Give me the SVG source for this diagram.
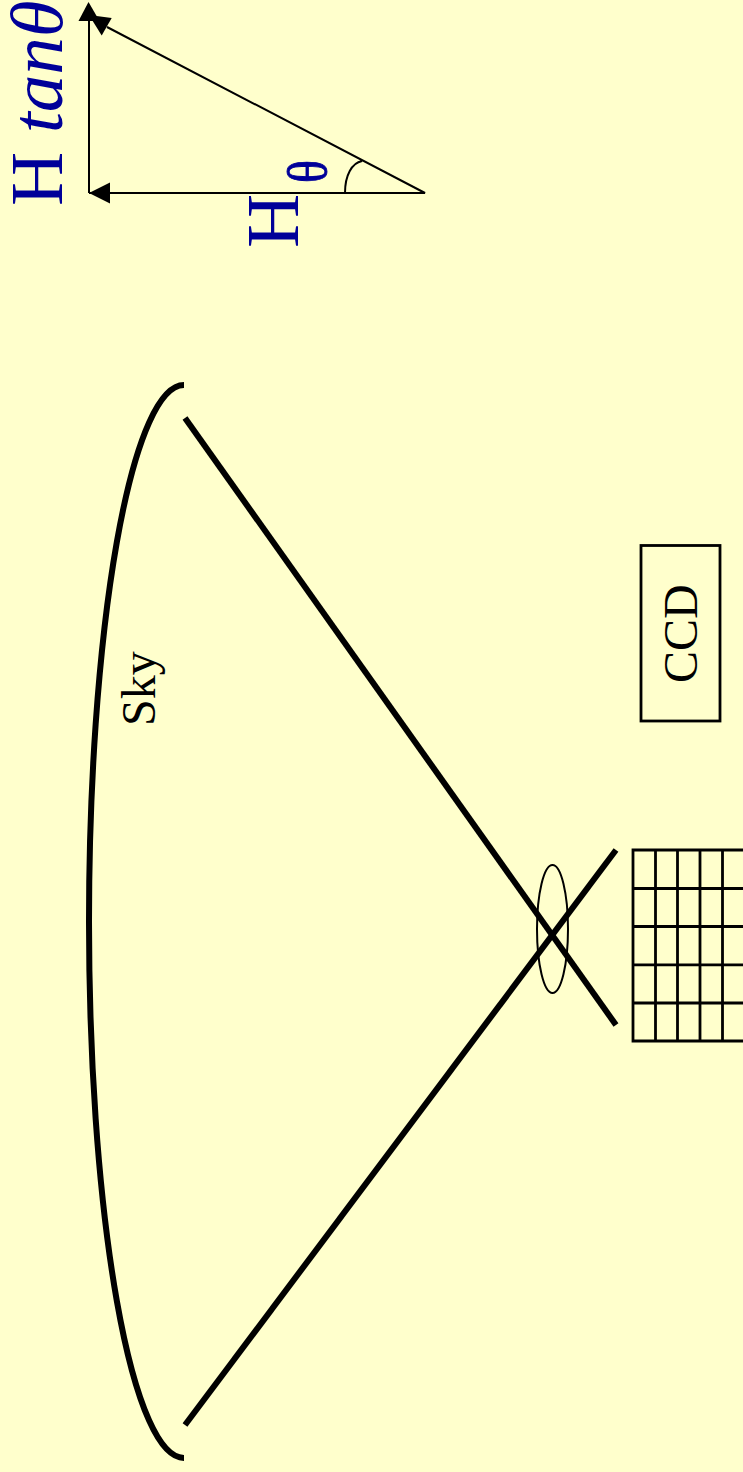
<svg xmlns="http://www.w3.org/2000/svg" width="743" height="1472" viewBox="0 0 743 1472">
<style>
.thick{fill:none;stroke:#000;stroke-width:6}
.thin{fill:none;stroke:#000;stroke-width:2}
.grid{fill:none;stroke:#000;stroke-width:2.800}
.head{fill:#000;stroke:none}
text{font-family:"Liberation Serif","Times New Roman",serif}
.blk{font-size:48px;fill:#000}
.blu{font-size:75px;fill:#000099}
</style>
<rect width="743" height="1472" fill="#FFFFCC"/>
<g id="triangle">
<path class="thin" d="M89 193H425L107 27M89 193V18M345 193C345 175 352 163 362 161"/>
<polygon class="head" points="89,193 110,182.500 110,203.500"/>
<polygon class="head" points="88.500,2 78.500,21 99.500,21"/>
<polygon class="head" points="89,15 111.700,18 101.700,35.500"/>
</g>
<g id="labels">
<text class="blu" transform="translate(298,248) rotate(-90)">H</text>
<text class="blu" transform="translate(62,206) rotate(-90)">H <tspan font-style="italic">tanθ</tspan></text>
<text transform="translate(326,183) rotate(-90) scale(1,1.150)" font-size="48" fill="#000099" stroke="#000099" stroke-width="0.800">θ</text>
</g>
<g id="sky">
<path class="thick" d="M184 385A95 536.500 0 0 0 184 1458"/>
<text class="blk" transform="translate(155,726) rotate(-90)">Sky</text>
</g>
<g id="connectors">
<line class="thick" x1="185" y1="418" x2="616" y2="1025"/>
<line class="thick" x1="616" y1="850" x2="185" y2="1425"/>
</g>
<g id="lens"><ellipse class="thin" cx="552.500" cy="929" rx="15.500" ry="64"/></g>
<g id="ccd"><rect class="grid" x="641" y="545.500" width="79" height="175.500"/>
<text class="blk" transform="translate(697,683) rotate(-90)">CCD</text></g>
<g id="grid"><path class="grid" d="M743 850H633V1041H743M633 888.500H743M633 926.500H743M633 964.800H743M633 1003H743M655.500 850V1041M677.500 850V1041M700 850V1041M722.500 850V1041"/></g>
</svg>
